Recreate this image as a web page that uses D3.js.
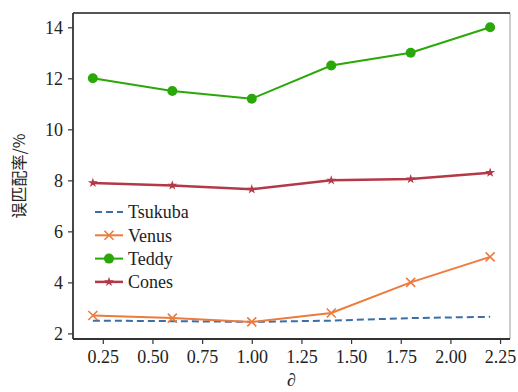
<!DOCTYPE html>
<html>
<head>
<meta charset="utf-8">
<script src="https://cdn.jsdelivr.net/npm/d3@7"></script>
<style>
  body { margin: 0; background: #fff; }
  svg text { fill: #222; }
</style>
</head>
<body>
<div id="chart"></div>
<script>
var svgWidth = 518;
var svgHeight = 392;

var margin = { top: 13, right: 8, bottom: 53, left: 73 };
var width = svgWidth - margin.left - margin.right;
var height = svgHeight - margin.top - margin.bottom;

// data
var alphas = [0.2, 0.6, 1.0, 1.4, 1.8, 2.2];
var tsukuba = [2.5, 2.48, 2.45, 2.5, 2.6, 2.65];
var venus = [2.7, 2.6, 2.45, 2.8, 4.0, 5.0];
var teddy = [12.0, 11.5, 11.2, 12.5, 13.0, 14.0];
var cones = [7.9, 7.8, 7.65, 8.0, 8.05, 8.3];
var xTicks = [0.25, 0.5, 0.75, 1.0, 1.25, 1.5, 1.75, 2.0, 2.25];
var yTicks = [2, 4, 6, 8, 10, 12, 14];
var seriesNames = ["Tsukuba", "Venus", "Teddy", "Cones"];

var serif = "'Liberation Serif', 'Times New Roman', 'DejaVu Serif', serif";

var series = [
  { name: "Tsukuba", values: tsukuba, color: "#3b6fa6", dash: "7,4", marker: "none", width: 2 },
  { name: "Venus", values: venus, color: "#ee7a3c", dash: null, marker: "x", width: 2 },
  { name: "Teddy", values: teddy, color: "#2aa80a", dash: null, marker: "circle", width: 2 },
  { name: "Cones", values: cones, color: "#b43848", dash: null, marker: "star", width: 2.5 }
];

var svg = d3.select("#chart")
  .append("svg")
  .attr("width", svgWidth)
  .attr("height", svgHeight)
  .attr("font-family", serif);

var chartGroup = svg.append("g")
  .attr("transform", `translate(${margin.left}, ${margin.top})`);

var xScale = d3.scaleLinear().domain([0.1, 2.3]).range([0, width]);
var yScale = d3.scaleLinear().domain([1.78, 14.56]).range([height, 0]);

// axes
var bottomAxis = d3.axisBottom(xScale).tickValues(xTicks)
  .tickFormat(d3.format(".2f")).tickSize(5).tickPadding(6);
var leftAxis = d3.axisLeft(yScale).tickValues(yTicks)
  .tickFormat(d3.format("d")).tickSize(5).tickPadding(5);

var xAxis = chartGroup.append("g")
  .attr("transform", `translate(0, ${height})`)
  .call(bottomAxis);
var yAxis = chartGroup.append("g").call(leftAxis);

[xAxis, yAxis].forEach(function(ax) {
  ax.attr("font-family", serif).attr("font-size", 18);
  ax.select(".domain").remove();
  ax.selectAll("line").attr("stroke", "#333").attr("stroke-width", 1.2);
  ax.selectAll("text").attr("fill", "#222").style("font-family", serif);
});

// frame
chartGroup.append("line").attr("x1", width).attr("x2", width).attr("y1", 0).attr("y2", height)
  .attr("stroke", "#bbb").attr("stroke-width", 1.5);
chartGroup.append("line").attr("x1", 0).attr("x2", width).attr("y1", 0).attr("y2", 0)
  .attr("stroke", "#555").attr("stroke-width", 1.8);
chartGroup.append("line").attr("x1", 0).attr("x2", width).attr("y1", height).attr("y2", height)
  .attr("stroke", "#333").attr("stroke-width", 1.8);
chartGroup.append("line").attr("x1", 0).attr("x2", 0).attr("y1", 0).attr("y2", height)
  .attr("stroke", "#333").attr("stroke-width", 1.8);

var line = d3.line()
  .x(function(d, i) { return xScale(alphas[i]); })
  .y(function(d) { return yScale(d); });

var star = d3.symbol().type(d3.symbolStar);

function drawMarker(g, type, color, x, y) {
  if (type === "circle") {
    g.append("circle").attr("cx", x).attr("cy", y).attr("r", 5).attr("fill", color);
  } else if (type === "x") {
    var s = 4.5;
    g.append("path")
      .attr("d", `M${x - s},${y - s}L${x + s},${y + s}M${x - s},${y + s}L${x + s},${y - s}`)
      .attr("stroke", color).attr("stroke-width", 1.6).attr("fill", "none");
  } else if (type === "star") {
    g.append("path").attr("d", star.size(30)())
      .attr("transform", `translate(${x},${y})`).attr("fill", color);
  }
}

series.forEach(function(s) {
  var g = chartGroup.append("g");
  g.append("path")
    .datum(s.values)
    .attr("d", line)
    .attr("fill", "none")
    .attr("stroke", s.color)
    .attr("stroke-width", s.width)
    .attr("stroke-dasharray", s.dash);
  s.values.forEach(function(v, i) {
    drawMarker(g, s.marker, s.color, xScale(alphas[i]), yScale(v));
  });
});

// legend
var legend = chartGroup.append("g").attr("transform", "translate(22, 199)");
seriesNames.forEach(function(name, i) {
  var s = series[i];
  var row = legend.append("g").attr("transform", `translate(0, ${i * 23.3})`);
  row.append("line").attr("x1", 0).attr("x2", 28).attr("y1", 0).attr("y2", 0)
    .attr("stroke", s.color).attr("stroke-width", s.width)
    .attr("stroke-dasharray", s.dash);
  drawMarker(row, s.marker, s.color, 14, 0);
  row.append("text").attr("x", 33).attr("y", 0).attr("dy", "0.35em")
    .style("font-family", serif).style("font-size", "18px").text(name);
});

// axis labels
svg.append("text")
  .attr("transform", `translate(25, ${margin.top + height / 2}) rotate(-90)`)
  .attr("text-anchor", "middle")
  .style("font-family", "'Noto Sans CJK SC', sans-serif")
  .style("font-size", "16px")
  .text("误匹配率/%");

svg.append("text")
  .attr("x", margin.left + width / 2)
  .attr("y", svgHeight - 6)
  .attr("text-anchor", "middle")
  .style("font-family", serif)
  .style("font-size", "18px")
  .style("font-style", "italic")
  .text("∂");
</script>
</body>
</html>
